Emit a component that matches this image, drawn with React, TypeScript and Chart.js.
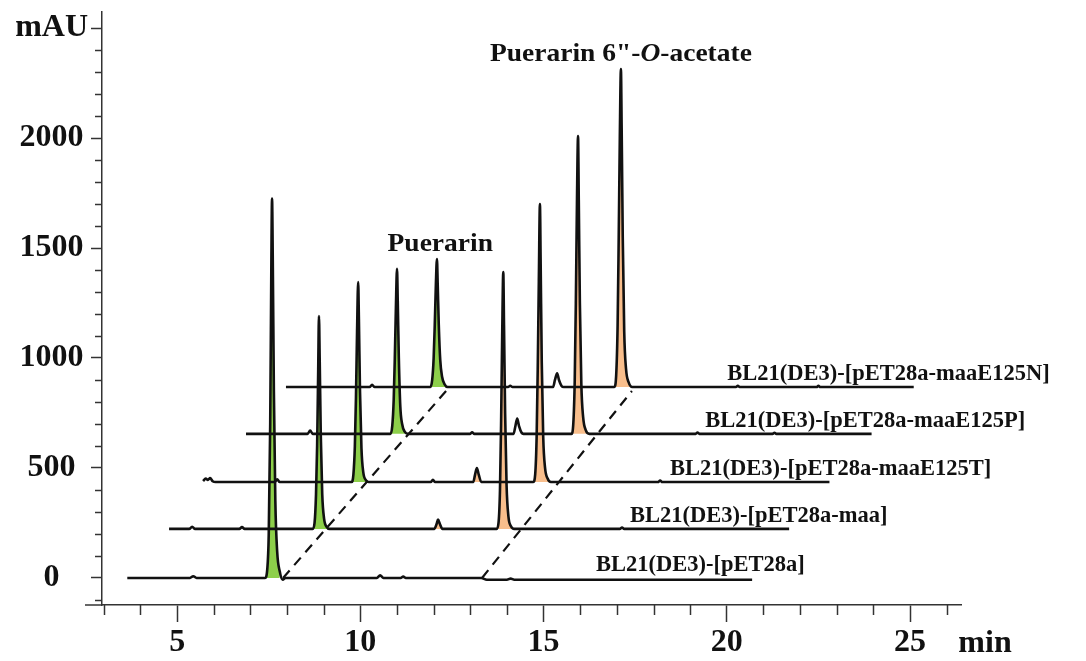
import React, { useEffect, useRef } from 'react';
import { Chart, registerables } from 'chart.js';

Chart.register(...registerables);

// ---------- data (plotted values: minutes, mAU) ----------
const TRACE_NAMES = [
  'BL21(DE3)-[pET28a]',
  'BL21(DE3)-[pET28a-maa]',
  'BL21(DE3)-[pET28a-maaE125T]',
  'BL21(DE3)-[pET28a-maaE125P]',
  'BL21(DE3)-[pET28a-maaE125N]',
];
const BASELINES = [0, 223, 436, 655, 868];
const LABEL_START = [16.43, 17.36, 18.45, 19.41, 20.01];

const TRACE_0: number[][] = [
  [3.64, 0], [5.35, 0], [5.44, 8], [5.53, 0], [7.4, 0], [7.46, 40], [7.5, 200], [7.54, 700],
  [7.57, 1400], [7.59, 1725], [7.61, 1450], [7.64, 850], [7.68, 350], [7.73, 120], [7.8, 30],
  [7.88, -8], [7.96, 0], [10.45, 0], [10.54, 12], [10.63, 0], [11.1, 0], [11.17, 6], [11.24, 0],
  [13.3, 0], [13.45, -8], [14.0, -8], [14.1, -3], [14.2, -8], [20.69, -8],
];
const TRACE_1: number[][] = [
  [4.78, 223], [5.33, 223], [5.41, 233], [5.49, 223], [6.7, 223], [6.77, 231], [6.84, 223],
  [8.7, 223], [8.75, 250], [8.79, 380], [8.82, 600], [8.85, 950], [8.87, 1191], [8.89, 1000],
  [8.92, 650], [8.96, 380], [9.01, 270], [9.08, 232], [9.16, 223], [12.02, 223], [12.08, 245],
  [12.12, 265], [12.17, 245], [12.24, 223], [13.72, 223], [13.77, 250], [13.81, 400], [13.84, 700],
  [13.87, 1100], [13.9, 1391], [13.92, 1150], [13.95, 750], [13.99, 420], [14.04, 280],
  [14.11, 235], [14.2, 223], [17.08, 223], [17.14, 229], [17.2, 223], [21.7, 223],
];
const TRACE_2: number[][] = [
  [5.71, 440], [5.78, 452], [5.84, 446], [5.9, 454], [5.97, 440], [6.05, 436], [7.66, 436],
  [7.73, 448], [7.8, 436], [9.76, 436], [9.81, 470], [9.85, 600], [9.88, 820], [9.91, 1120],
  [9.94, 1345], [9.96, 1180], [9.99, 850], [10.03, 590], [10.08, 480], [10.15, 445], [10.23, 436],
  [11.92, 436], [11.98, 446], [12.04, 436], [13.08, 436], [13.13, 470], [13.18, 500], [13.23, 470],
  [13.3, 436], [14.72, 436], [14.77, 470], [14.81, 640], [14.84, 950], [14.87, 1350], [14.9, 1700],
  [14.92, 1430], [14.95, 980], [14.99, 640], [15.04, 500], [15.11, 452], [15.2, 436], [18.12, 436],
  [18.18, 443], [18.24, 436], [22.8, 436],
];
const TRACE_3: number[][] = [
  [6.88, 655], [8.56, 655], [8.63, 670], [8.7, 655], [10.82, 655], [10.87, 690], [10.91, 810],
  [10.94, 1000], [10.97, 1230], [11.0, 1405], [11.02, 1260], [11.05, 1000], [11.09, 780],
  [11.14, 700], [11.21, 665], [11.3, 655], [12.99, 655], [13.05, 662], [13.11, 655], [14.18, 655],
  [14.23, 690], [14.28, 725], [14.33, 690], [14.4, 660], [14.45, 655], [15.76, 655], [15.81, 700],
  [15.85, 900], [15.88, 1250], [15.91, 1700], [15.94, 2009], [15.96, 1720], [15.99, 1250],
  [16.03, 880], [16.08, 730], [16.15, 672], [16.25, 655], [19.15, 655], [19.2, 661], [19.25, 655],
  [21.25, 655], [21.3, 660], [21.35, 655], [23.95, 655],
];
const TRACE_4: number[][] = [
  [7.97, 868], [10.25, 868], [10.32, 878], [10.39, 868], [11.91, 868], [11.96, 900], [12.0, 1000],
  [12.03, 1150], [12.06, 1330], [12.09, 1450], [12.11, 1340], [12.14, 1150], [12.18, 990],
  [12.23, 915], [12.3, 880], [12.38, 868], [14.03, 868], [14.09, 874], [14.15, 868], [15.26, 868],
  [15.31, 900], [15.37, 930], [15.42, 900], [15.49, 873], [15.55, 868], [16.93, 868], [16.98, 920],
  [17.02, 1150], [17.05, 1550], [17.08, 2000], [17.11, 2314], [17.13, 2050], [17.16, 1550],
  [17.2, 1120], [17.25, 950], [17.32, 890], [17.42, 868], [20.25, 868], [20.3, 874], [20.35, 868],
  [22.45, 868], [22.5, 873], [22.55, 868], [25.1, 868],
];
const TRACES = [TRACE_0, TRACE_1, TRACE_2, TRACE_3, TRACE_4];

// filled peaks: [trace index, start min, end min]
const GREEN_PEAKS = [[0, 7.4, 7.8], [1, 8.7, 9.16], [2, 9.76, 10.23], [3, 10.82, 11.3], [4, 11.91, 12.38]];
const ORANGE_PEAKS = [
  [1, 12.02, 12.24], [1, 13.72, 14.2], [2, 13.08, 13.3], [2, 14.72, 15.2],
  [3, 15.76, 16.25], [4, 16.93, 17.42],
];
const GREEN_DASH = [[7.89, 0], [12.34, 850]];
const ORANGE_DASH = [[13.32, 0], [17.41, 850]];

const X_TICKS = [5, 10, 15, 20, 25];
const Y_TICKS = [0, 500, 1000, 1500, 2000, 2500];
const Y_TICK_LABELS = ['0', '500', '1000', '1500', '2000', 'mAU'];
const X_MIN = 2.95;
const X_MAX = 26.39;
const Y_MIN = -123;
const Y_MAX = 2573;

const PUERARIN_ANCHOR = [12.18, 1515];
const PRODUCT_ANCHOR = [17.11, 2380];

const GREEN = '#8DCF4A';
const ORANGE = '#F8BE8C';
const INK = '#111111';
const AXIS = '#333333';
const SERIF = '"Liberation Serif", "Times New Roman", serif';

const toXY = (pts: number[][]) => pts.map(([x, y]) => ({ x, y }));

const decorPlugin = {
  id: 'decor',
  afterDraw(chart: any) {
    const { ctx, chartArea } = chart;
    const xs = chart.scales.x;
    const ys = chart.scales.y;
    ctx.save();
    ctx.strokeStyle = AXIS;
    ctx.lineWidth = 1.5;
    // x axis extension to the left
    ctx.beginPath();
    ctx.moveTo(85, chartArea.bottom);
    ctx.lineTo(chartArea.left, chartArea.bottom);
    ctx.stroke();
    // minor x ticks
    for (let m = 3; m <= 26; m++) {
      if (m % 5 === 0) continue;
      const px = Math.round(xs.getPixelForValue(m)) + 0.5;
      ctx.beginPath();
      ctx.moveTo(px, chartArea.bottom);
      ctx.lineTo(px, chartArea.bottom + 10);
      ctx.stroke();
    }
    // minor y ticks
    for (let v = -100; v <= 2400; v += 100) {
      if (v % 500 === 0) continue;
      const py = Math.round(ys.getPixelForValue(v)) + 0.5;
      ctx.beginPath();
      ctx.moveTo(chartArea.left - 7, py);
      ctx.lineTo(chartArea.left, py);
      ctx.stroke();
    }
    // "min" axis unit
    ctx.fillStyle = INK;
    ctx.font = `bold 32px ${SERIF}`;
    ctx.textAlign = 'center';
    ctx.textBaseline = 'middle';
    ctx.fillText('min', 985, xs.bottom - 17);

    // trace labels
    ctx.font = `bold 22.5px ${SERIF}`;
    ctx.textAlign = 'left';
    ctx.textBaseline = 'alphabetic';
    TRACE_NAMES.forEach((name, i) => {
      const px = xs.getPixelForValue(LABEL_START[i]);
      const py = ys.getPixelForValue(BASELINES[i]) - 7;
      ctx.fillText(name, px, py);
    });

    // peak annotations
    const drawRuns = (runs: [string, string][], cx: number, cy: number, sx: number) => {
      let total = 0;
      runs.forEach(([t, f]) => {
        ctx.font = f;
        total += ctx.measureText(t).width;
      });
      ctx.save();
      ctx.translate(cx, cy);
      ctx.scale(sx, 1);
      ctx.textAlign = 'left';
      ctx.textBaseline = 'middle';
      let x = -total / 2;
      runs.forEach(([t, f]) => {
        ctx.font = f;
        ctx.fillText(t, x, 0);
        x += ctx.measureText(t).width;
      });
      ctx.restore();
    };
    const bold = `bold 25px ${SERIF}`;
    const boldItalic = `italic bold 25px ${SERIF}`;
    drawRuns([['Puerarin', bold]], xs.getPixelForValue(PUERARIN_ANCHOR[0]), ys.getPixelForValue(PUERARIN_ANCHOR[1]), 1.1);
    drawRuns(
      [['Puerarin 6"-', bold], ['O', boldItalic], ['-acetate', bold]],
      xs.getPixelForValue(PRODUCT_ANCHOR[0]),
      ys.getPixelForValue(PRODUCT_ANCHOR[1]),
      1.1,
    );
    ctx.restore();
  },
};

export default function App() {
  const canvasRef = useRef<HTMLCanvasElement | null>(null);

  useEffect(() => {
    const canvas = canvasRef.current;
    if (!canvas) return;

    const datasets: any[] = [];
    const fillSet = (t: number, a: number, b: number, color: string) => ({
      data: toXY(TRACES[t].filter(([x]) => x >= a && x <= b)),
      borderWidth: 0,
      borderColor: 'rgba(0,0,0,0)',
      backgroundColor: color,
      fill: { value: BASELINES[t] },
      pointRadius: 0,
      cubicInterpolationMode: 'monotone',
      order: 3,
    });
    GREEN_PEAKS.forEach(([t, a, b]) => datasets.push(fillSet(t, a, b, GREEN)));
    ORANGE_PEAKS.forEach(([t, a, b]) => datasets.push(fillSet(t, a, b, ORANGE)));
    [GREEN_DASH, ORANGE_DASH].forEach((d) =>
      datasets.push({
        data: toXY(d),
        borderColor: INK,
        borderWidth: 2.2,
        borderDash: [10, 7],
        pointRadius: 0,
        fill: false,
        order: 2,
      }),
    );
    TRACES.forEach((tr, i) =>
      datasets.push({
        label: TRACE_NAMES[i],
        data: toXY(tr),
        borderColor: INK,
        borderWidth: 2.6,
        pointRadius: 0,
        fill: false,
        cubicInterpolationMode: 'monotone',
        order: 0,
      }),
    );

    const chart = new Chart(canvas, {
      type: 'line',
      data: { datasets },
      plugins: [decorPlugin],
      options: {
        animation: false,
        responsive: false,
        devicePixelRatio: 1,
        layout: { padding: { top: 12, right: 125, left: 0, bottom: 0 } },
        plugins: { legend: { display: false }, tooltip: { enabled: false }, title: { display: false } },
        events: [],
        scales: {
          x: {
            type: 'linear',
            min: X_MIN,
            max: X_MAX,
            border: { display: true, color: AXIS, width: 1.5 },
            grid: { display: true, drawOnChartArea: false, drawTicks: true, tickLength: 17, tickColor: AXIS, tickWidth: 1.5, color: AXIS },
            afterBuildTicks: (s: any) => {
              s.ticks = X_TICKS.map((v) => ({ value: v }));
            },
            afterFit: (s: any) => {
              s.height = 56;
              s.paddingLeft = 0;
              s.paddingRight = 0;
            },
            ticks: {
              autoSkip: false,
              maxRotation: 0,
              padding: 2,
              color: INK,
              font: { family: SERIF, size: 32, weight: 'bold' },
              callback: (v: any) => String(v),
            },
          },
          y: {
            type: 'linear',
            min: Y_MIN,
            max: Y_MAX,
            border: { display: true, color: AXIS, width: 1.5 },
            grid: { display: true, drawOnChartArea: false, drawTicks: true, tickLength: 11, tickColor: AXIS, tickWidth: 1.5, color: AXIS },
            afterBuildTicks: (s: any) => {
              s.ticks = Y_TICKS.map((v) => ({ value: v }));
            },
            afterFit: (s: any) => {
              s.width = 102;
              s.paddingTop = 0;
              s.paddingBottom = 0;
            },
            ticks: {
              autoSkip: false,
              padding: 3,
              crossAlign: 'center',
              color: INK,
              font: { family: SERIF, size: 32, weight: 'bold' },
              callback: (v: any) => {
                const i = Y_TICKS.indexOf(Number(v));
                return i >= 0 ? Y_TICK_LABELS[i] : '';
              },
            },
          },
        },
      } as any,
    });
    return () => chart.destroy();
  }, []);

  return (
    <div style={{ position: 'absolute', left: 0, top: 0, width: 1086, height: 661, background: '#fff' }}>
      <canvas ref={canvasRef} width={1086} height={661} style={{ display: 'block' }} />
    </div>
  );
}
